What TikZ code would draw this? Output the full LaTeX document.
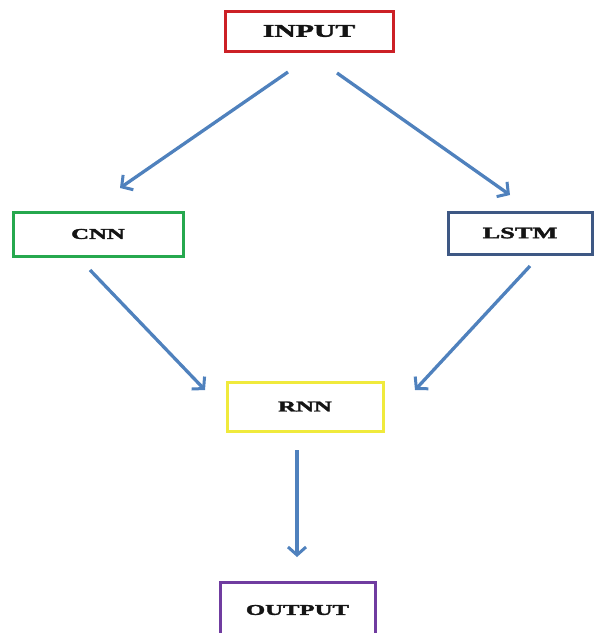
\documentclass[tikz,border=0pt]{standalone}
\usepackage{fontspec}
\usepackage{graphicx}
\setmainfont{Liberation Serif}[BoldFeatures={FakeBold=1.8}]
\usetikzlibrary{arrows.meta}
\definecolor{arrowblue}{RGB}{79,129,189}
\definecolor{boxred}{RGB}{204,32,38}
\definecolor{boxgreen}{RGB}{38,168,78}
\definecolor{boxslate}{RGB}{62,88,132}
\definecolor{boxyellow}{RGB}{240,234,60}
\definecolor{boxpurple}{RGB}{112,60,160}
\newcommand{\lbl}[2]{\fontsize{#1}{#1}\selectfont\bfseries\scalebox{1.65}[1]{#2}}
\tikzset{
  stagebox/.style={draw, line width=3pt, fill=white, inner sep=0pt, text=black!92},
  flow/.style={draw=arrowblue, line width=3.3pt, -{Straight Barb[length=8pt,width=18pt,line width=3pt]}}
}
\begin{document}
\begin{tikzpicture}[x=1pt,y=-1pt]
\useasboundingbox (0,0) rectangle (595,633);
\node[stagebox, draw=boxred, minimum width=168pt, minimum height=40pt] (input) at (309,31) {\lbl{18}{INPUT}};
\node[stagebox, draw=boxgreen, minimum width=170pt, minimum height=44pt] (cnn) at (98,234) {\lbl{15}{CNN}};
\node[stagebox, draw=boxslate, minimum width=144pt, minimum height=42pt] (lstm) at (520,233) {\lbl{16}{LSTM}};
\node[stagebox, draw=boxyellow, minimum width=156pt, minimum height=49pt] (rnn) at (305,406.5) {\lbl{15}{RNN}};
\node[stagebox, draw=boxpurple, minimum width=155pt, minimum height=56pt] (output) at (297.5,610) {\lbl{15}{OUTPUT}};
\coordinate (a1s) at (288,72);  \coordinate (a1e) at (120,188);
\coordinate (a2s) at (337,73);  \coordinate (a2e) at (510,195);
\coordinate (a3s) at (90,270);  \coordinate (a3e) at (205,390);
\coordinate (a4s) at (530,266); \coordinate (a4e) at (415,390);
\coordinate (a5s) at (297,450); \coordinate (a5e) at (297,557);
\draw[flow] (a1s) -- (a1e);
\draw[flow] (a2s) -- (a2e);
\draw[flow] (a3s) -- (a3e);
\draw[flow] (a4s) -- (a4e);
\draw[flow] (a5s) -- (a5e);
\end{tikzpicture}
\end{document}
